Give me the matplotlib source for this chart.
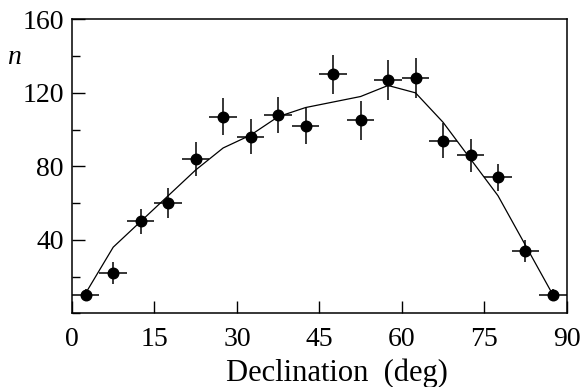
import matplotlib
matplotlib.use("Agg")
import matplotlib.pyplot as plt
from matplotlib.ticker import MultipleLocator

# declination bin centres (deg)
decl = [2.5, 7.5, 12.5, 17.5, 22.5, 27.5, 32.5, 37.5, 42.5,
        47.5, 52.5, 57.5, 62.5, 67.5, 72.5, 77.5, 82.5, 87.5]
# observed counts and errors
n_obs = [10, 22, 50, 60, 84, 107, 96, 108, 102,
         130, 105, 127, 128, 94, 86, 74, 34, 10]
n_err = [3, 6, 7, 8, 9, 10, 9.5, 10, 10,
         10.5, 10.5, 11, 11, 9.5, 9, 7.5, 6, 3]
decl_err = [2.5] * len(decl)
# expected curve
n_model = [11, 36, 50, 64, 78, 90, 97, 107, 112,
           115, 118, 124, 120, 104, 84, 64, 37, 10]

plt.rcParams['font.family'] = ['Liberation Serif', 'DejaVu Serif']

fig = plt.figure(figsize=(5.81, 3.87), dpi=100)
ax = fig.add_axes([0.1239, 0.1904, 0.8515, 0.7596])

ax.plot(decl, n_model, color='black', lw=0.9)
ax.errorbar(decl, n_obs, xerr=decl_err, yerr=n_err, fmt='o', color='black',
            ms=7.6, elinewidth=1.1, capsize=0)

ax.set_xlim(0, 90)
ax.set_ylim(0, 160)
ax.xaxis.set_major_locator(MultipleLocator(15))
ax.yaxis.set_major_locator(MultipleLocator(40))
ax.yaxis.set_minor_locator(MultipleLocator(20))
ax.tick_params(axis='both', which='both', direction='in', top=False, right=False,
               width=1.0, labelsize=20)
ax.tick_params(axis='both', which='major', length=9)
ax.tick_params(axis='x', which='major', pad=10)
ax.tick_params(axis='y', which='major', pad=6)
ax.tick_params(axis='y', which='minor', length=6)
ax.set_yticks([40, 80, 120, 160])
for s in ax.spines.values():
    s.set_linewidth(1.1)

ax.set_xlabel('Declination  (deg)', fontsize=22, labelpad=6)
ax.xaxis.set_label_coords(0.535, -0.155, transform=ax.transAxes)
ax.xaxis.label.set_va('top')
fig.text(14 / 581, 1 - 58 / 387, 'n', fontsize=20, style='italic',
         ha='center', va='center')

fig.savefig('out.png', dpi=100)
